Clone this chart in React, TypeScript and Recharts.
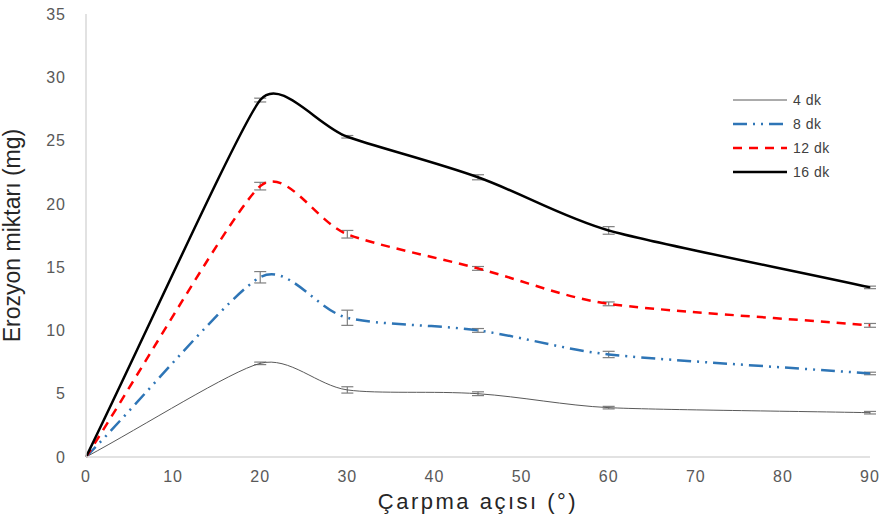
import React from 'react';
import { LineChart, Line, XAxis, YAxis, Legend, ErrorBar } from 'recharts';

const angles = [0, 20, 30, 45, 60, 90];
const dk4 = [0, 7.4, 5.3, 5.0, 3.9, 3.5];
const dk8 = [0, 14.2, 11.0, 10.0, 8.1, 6.6];
const dk12 = [0, 21.4, 17.6, 14.9, 12.1, 10.4];
const dk16 = [0, 28.2, 25.3, 22.1, 17.9, 13.4];
const err4 = [0, 0.1, 0.25, 0.15, 0.1, 0.1];
const err8 = [0, 0.45, 0.6, 0.15, 0.25, 0.1];
const err12 = [0, 0.3, 0.3, 0.15, 0.15, 0.15];
const err16 = [0, 0.15, 0.1, 0.2, 0.3, 0.1];
const xTicks = [0, 10, 20, 30, 40, 50, 60, 70, 80, 90];
const yTicks = [0, 5, 10, 15, 20, 25, 30, 35];

const chartData = angles.map((a, i) => ({
  angle: a,
  d4: dk4[i],
  d8: dk8[i],
  d12: dk12[i],
  d16: dk16[i],
  e4: err4[i],
  e8: err8[i],
  e12: err12[i],
  e16: err16[i],
}));

const series = [
  { key: 'd4', err: 'e4', name: '4 dk', color: '#595959', width: 1, dash: undefined as string | undefined },
  { key: 'd8', err: 'e8', name: '8 dk', color: '#2e75b6', width: 2.5, dash: '14 6 2 6 2 6' },
  { key: 'd12', err: 'e12', name: '12 dk', color: '#ff0000', width: 2.5, dash: '9 7' },
  { key: 'd16', err: 'e16', name: '16 dk', color: '#000000', width: 2.5, dash: undefined },
];

// Excel-like smoothed line: tangent from neighbours, handle length from the shorter adjacent segment
const excelCurve = (context: any) => {
  let pts: number[][] = [];
  const dist = (a: number[], b: number[]) => Math.hypot(b[0] - a[0], b[1] - a[1]);
  const unit = (a: number[], b: number[]) => {
    const len = dist(a, b) || 1;
    return [(b[0] - a[0]) / len, (b[1] - a[1]) / len];
  };
  return {
    areaStart() {},
    areaEnd() {},
    lineStart() {
      pts = [];
    },
    point(x: number, y: number) {
      pts.push([+x, +y]);
    },
    lineEnd() {
      if (!pts.length) return;
      context.moveTo(pts[0][0], pts[0][1]);
      for (let i = 0; i < pts.length - 1; i++) {
        const p0 = pts[i - 1] || pts[i];
        const p1 = pts[i];
        const p2 = pts[i + 1];
        const p3 = pts[i + 2] || p2;
        const seg = dist(p1, p2);
        const h1 = (i > 0 ? Math.min(seg, dist(p0, p1)) : seg) / 3;
        const h2 = (i + 2 < pts.length ? Math.min(seg, dist(p2, p3)) : seg) / 3;
        const t1 = unit(p0, p2);
        const t2 = unit(p1, p3);
        context.bezierCurveTo(p1[0] + t1[0] * h1, p1[1] + t1[1] * h1, p2[0] - t2[0] * h2, p2[1] - t2[1] * h2, p2[0], p2[1]);
      }
    },
  };
};

const LegendBox = () => (
  <div style={{ fontSize: 14, color: '#404040', letterSpacing: 0.5 }}>
    {series.map((s) => (
      <div key={s.key} style={{ display: 'flex', alignItems: 'center', height: 24 }}>
        <svg width={54} height={10} style={{ marginRight: 6 }}>
          <line x1={0} y1={5} x2={54} y2={5} stroke={s.color} strokeWidth={s.width} strokeDasharray={s.dash} />
        </svg>
        <span>{s.name}</span>
      </div>
    ))}
  </div>
);

const tickStyle = { fill: '#595959', fontSize: 16, letterSpacing: 1 };

const App: React.FC = () => {
  return (
    <div style={{ position: 'absolute', left: 0, top: 0, fontFamily: '"Liberation Sans", Arial, sans-serif' }}>
      <LineChart width={885} height={519} data={chartData} margin={{ top: 14, right: 15, left: 0, bottom: 0 }}>
        <XAxis
          dataKey="angle"
          type="number"
          domain={[0, 90]}
          ticks={xTicks}
          tickLine={false}
          stroke="#d9d9d9"
          strokeWidth={1.5}
          tick={tickStyle}
          tickMargin={8}
          height={62}
          label={{ value: 'Çarpma açısı (°)', position: 'insideBottom', offset: 10, fill: '#262626', fontSize: 22, letterSpacing: 2.5 }}
        />
        <YAxis
          type="number"
          domain={[0, 35]}
          ticks={yTicks}
          tickLine={false}
          stroke="#d9d9d9"
          strokeWidth={1.5}
          tick={tickStyle}
          tickMargin={14}
          width={86}
          label={{ value: 'Erozyon miktarı (mg)', angle: -90, position: 'insideLeft', offset: 12, fill: '#262626', fontSize: 23, style: { textAnchor: 'middle' } }}
        />
        <Legend
          layout="vertical"
          verticalAlign="middle"
          align="center"
          content={() => <LegendBox />}
          wrapperStyle={{ left: 733, top: 88, width: 'auto' }}
        />
        {series.map((s) => (
          <Line
            key={s.key}
            name={s.name}
            dataKey={s.key}
            type={excelCurve as any}
            stroke={s.color}
            strokeWidth={s.width}
            strokeDasharray={s.dash}
            dot={false}
            isAnimationActive={false}
          >
            <ErrorBar dataKey={s.err} width={6} stroke="#7f7f7f" strokeWidth={1.2} />
          </Line>
        ))}
      </LineChart>
    </div>
  );
};

export default App;
